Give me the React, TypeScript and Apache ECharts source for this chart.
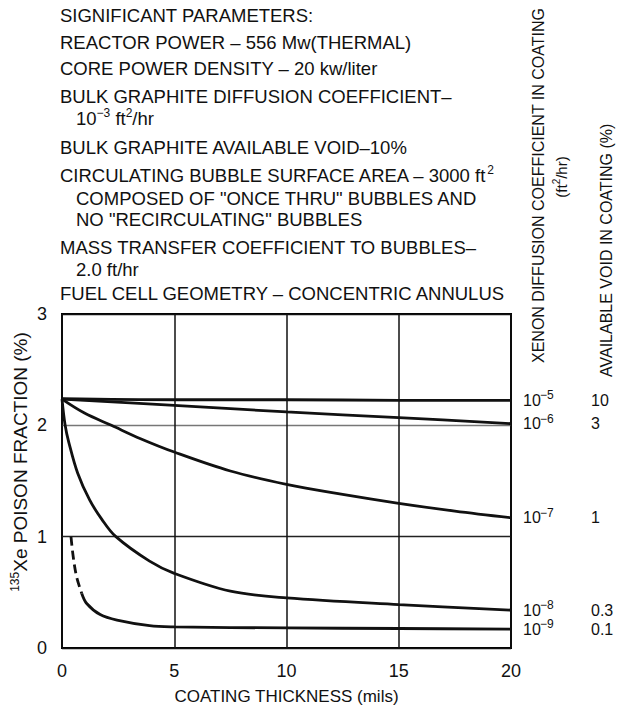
import React, { useEffect, useRef } from 'react';
import * as echarts from 'echarts';

// Coating thickness (mils) and 135Xe poison fraction (%) for each xenon diffusion coefficient
const coef5X = [0, 5, 10, 15, 20];
const coef5Y = [2.24, 2.23, 2.23, 2.225, 2.225];
const coef6X = [0, 5, 10, 15, 20];
const coef6Y = [2.235, 2.18, 2.12, 2.07, 2.015];
const coef7X = [0, 1, 2.2, 3.5, 5, 7.5, 10, 12.5, 15, 17.5, 20];
const coef7Y = [2.235, 2.11, 2.0, 1.88, 1.76, 1.59, 1.47, 1.38, 1.3, 1.23, 1.17];
const coef8X = [0, 0.14, 0.3, 0.7, 1.23, 1.76, 2.4, 3.9, 5, 7.5, 10, 15, 20];
const coef8Y = [2.235, 2.0, 1.85, 1.57, 1.33, 1.16, 1.0, 0.78, 0.67, 0.51, 0.45, 0.39, 0.34];
const coef9DashX = [0.4, 0.5, 0.65, 0.88];
const coef9DashY = [1.0, 0.82, 0.64, 0.49];
const coef9X = [0.88, 1.1, 1.7, 2.45, 3.9, 5, 10, 15, 20];
const coef9Y = [0.49, 0.4, 0.3, 0.25, 0.2, 0.19, 0.18, 0.175, 0.17];

const diffusionExp = ['−5', '−6', '−7', '−8', '−9'];
const voidPct = ['10', '3', '1', '0.3', '0.1'];

const yTicks = [0, 1, 2, 3];
const xTicks = [0, 5, 10, 15, 20];

const paramLines = [
  'SIGNIFICANT PARAMETERS:',
  'REACTOR POWER – 556 Mw(THERMAL)',
  'CORE POWER DENSITY – 20 kw/liter',
  'BULK GRAPHITE DIFFUSION COEFFICIENT–',
  '10{sup|−3} ft{sup|2}/hr',
  'BULK GRAPHITE AVAILABLE VOID–10%',
  'CIRCULATING BUBBLE SURFACE AREA – 3000 ft{sup|2}',
  'COMPOSED OF "ONCE THRU" BUBBLES AND',
  'NO "RECIRCULATING" BUBBLES',
  'MASS TRANSFER COEFFICIENT TO BUBBLES–',
  '2.0 ft/hr',
  'FUEL CELL GEOMETRY – CONCENTRIC ANNULUS',
];

const xTitle = 'COATING THICKNESS (mils)';
const yTitle = '{sup|135}Xe POISON FRACTION (%)';
const rightTitle1 = 'XENON DIFFUSION COEFFICIENT IN COATING';
const rightTitle2 = '(ft{sup|2}/hr)';
const rightTitle3 = 'AVAILABLE VOID IN COATING (%)';

export default function App() {
  const ref = useRef<HTMLDivElement>(null);
  useEffect(() => {
    const chart = echarts.init(ref.current!, null, { renderer: 'svg' });
    const FONT = '"Liberation Sans", Arial, sans-serif';
    const INK = '#111';
    const pairs = (xs: number[], ys: number[]) => xs.map((x, i) => [x, ys[i]]);

    const endLabel = (i: number) => ({
      show: true,
      distance: 12,
      formatter: `{b|10}{s|${diffusionExp[i]}}{v|${voidPct[i]}}`,
      rich: {
        b: { fontSize: 16, lineHeight: 22, width: 17, fontFamily: FONT, color: INK },
        s: { fontSize: 12, lineHeight: 12, verticalAlign: 'top', width: 51, fontFamily: FONT, color: INK },
        v: { fontSize: 16, lineHeight: 22, fontFamily: FONT, color: INK },
      },
    });

    const lineStyle = { color: INK, width: 2.8 };
    const mk = (name: string, data: number[][], labelIdx: number | null, dashed = false) => ({
      name,
      type: 'line',
      data,
      showSymbol: false,
      symbol: 'none',
      smooth: 0.35,
      lineStyle: dashed ? { ...lineStyle, type: [9, 5] } : lineStyle,
      endLabel: labelIdx === null ? { show: false } : endLabel(labelIdx),
      silent: true,
      z: 3,
    });

    const paramY = [15, 42, 68, 96, 118, 147, 175, 198, 219, 247, 269, 293];
    const paramIndent = [0, 0, 0, 0, 1, 0, 0, 1, 1, 0, 1, 0];
    const supRich = {
      sup: { fontSize: 12, lineHeight: 12, verticalAlign: 'top', fontFamily: FONT, fill: INK, color: INK },
    };

    const graphics: any[] = paramLines.map((t, i) => ({
      type: 'text',
      x: paramIndent[i] ? 76 : 60,
      y: paramY[i],
      style: {
        text: t,
        fontSize: 18.5,
        fontFamily: FONT,
        fill: INK,
        lineHeight: 23,
        align: 'left',
        verticalAlign: 'middle',
        rich: supRich,
      },
    }));

    graphics.push(
      {
        type: 'text', x: 20, y: 462, rotation: Math.PI / 2,
        style: { text: yTitle, fontSize: 19, lineHeight: 23, fontFamily: FONT, fill: INK, align: 'center', verticalAlign: 'middle', rich: supRich },
      },
      {
        type: 'text', x: 538, y: 363, rotation: Math.PI / 2,
        style: { text: rightTitle1, fontSize: 16, fontFamily: FONT, fill: INK, align: 'left', verticalAlign: 'middle' },
      },
      {
        type: 'text', x: 561, y: 177, rotation: Math.PI / 2,
        style: { text: rightTitle2, fontSize: 15, lineHeight: 20, fontFamily: FONT, fill: INK, align: 'center', verticalAlign: 'middle', rich: { sup: { fontSize: 10, lineHeight: 10, verticalAlign: 'top', fontFamily: FONT, fill: INK } } },
      },
      {
        type: 'text', x: 606, y: 377, rotation: Math.PI / 2,
        style: { text: rightTitle3, fontSize: 16, fontFamily: FONT, fill: INK, align: 'left', verticalAlign: 'middle' },
      }
    );

    chart.setOption({
      animation: false,
      backgroundColor: '#fff',
      grid: { left: 62, right: 106, top: 314, bottom: 63, show: true, borderColor: '#000', borderWidth: 2, backgroundColor: 'transparent' },
      xAxis: {
        type: 'value',
        min: xTicks[0],
        max: xTicks[xTicks.length - 1],
        interval: 5,
        name: xTitle,
        nameLocation: 'middle',
        nameGap: 40,
        nameTextStyle: { fontSize: 17, fontFamily: FONT, color: INK },
        axisLine: { show: false },
        axisTick: { show: false },
        axisLabel: { fontSize: 18, fontFamily: FONT, color: INK, margin: 14 },
        splitLine: { show: true, lineStyle: { color: '#111', width: 1.5 } },
      },
      yAxis: {
        type: 'value',
        min: yTicks[0],
        max: yTicks[yTicks.length - 1],
        interval: 1,
        axisLine: { show: false },
        axisTick: { show: false },
        axisLabel: { fontSize: 18, fontFamily: FONT, color: INK, margin: 15 },
        splitLine: { show: true, lineStyle: { color: ['#111', '#222', '#777', '#111'], width: 1.3 } },
      },
      series: [
        mk('1e-5', pairs(coef5X, coef5Y), 0),
        mk('1e-6', pairs(coef6X, coef6Y), 1),
        mk('1e-7', pairs(coef7X, coef7Y), 2),
        mk('1e-8', pairs(coef8X, coef8Y), 3),
        mk('1e-9 dashed', pairs(coef9DashX, coef9DashY), null, true),
        mk('1e-9', pairs(coef9X, coef9Y), 4),
      ],
      graphic: graphics,
    });
    return () => chart.dispose();
  }, []);
  return <div ref={ref} style={{ position: 'absolute', left: 0, top: 0, width: 617, height: 711, background: '#fff' }} />;
}
